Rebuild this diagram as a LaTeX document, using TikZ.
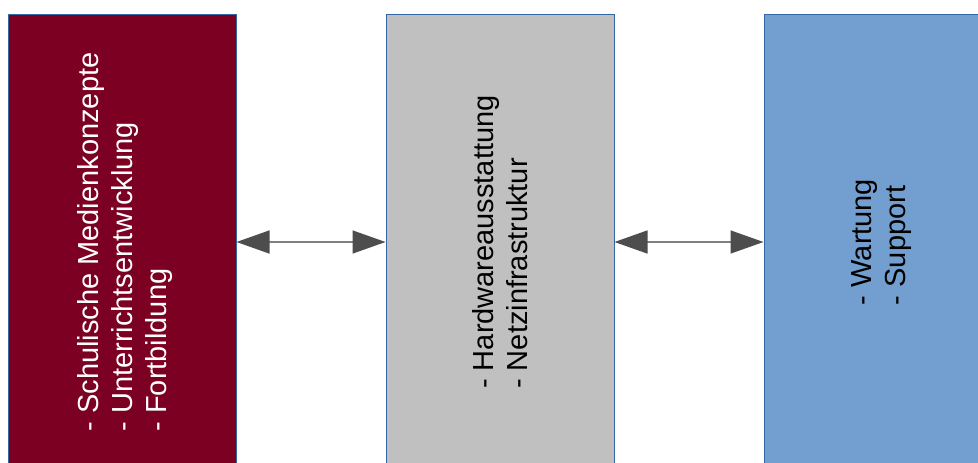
\documentclass[tikz,border=0pt]{standalone}
\usepackage{fontspec}
\setmainfont{Liberation Sans}
\usetikzlibrary{positioning, arrows.meta}
\definecolor{medred}{HTML}{7C0022}
\definecolor{hwgray}{HTML}{C0C0C0}
\definecolor{supblue}{HTML}{729FCF}
\definecolor{edgeblue}{HTML}{3465A4}
\definecolor{tipgray}{HTML}{4D4D4D}
\definecolor{shaftgray}{HTML}{808080}
\newcommand{\boxtext}[1]{\kern4pt\rotatebox{90}{\fontsize{14.5pt}{17pt}\selectfont\begin{tabular}{@{}l@{}}#1\end{tabular}}}

\begin{document}
\begin{tikzpicture}[node distance={74.5pt}, area/.style = {draw=edgeblue, line width=0.5pt, minimum width=114pt, minimum height=228pt, inner sep=0pt}, link/.style = {shaftgray, line width=0.75pt, {Triangle[length=16.5pt, width=11.5pt, color=tipgray]}-{Triangle[length=16.5pt, width=11.5pt, color=tipgray]}}]
  \useasboundingbox (0,0) rectangle (489pt,231pt);
  \clip (0,0) rectangle (489pt,231pt);
  \node[area, fill=medred, text=white] (med) at (61pt,110pt) {\boxtext{- Schulische Medienkonzepte\\- Unterrichtsentwicklung\\- Fortbildung}};
  \node[area, fill=hwgray] (hw) [right=of med] {\boxtext{- Hardwareausstattung\\- Netzinfrastruktur}};
  \node[area, fill=supblue] (sup) [right=of hw] {\boxtext{- Wartung\\- Support}};
  \draw[link] (med) -- (hw);
  \draw[link] (hw) -- (sup);
\end{tikzpicture}
\end{document}
